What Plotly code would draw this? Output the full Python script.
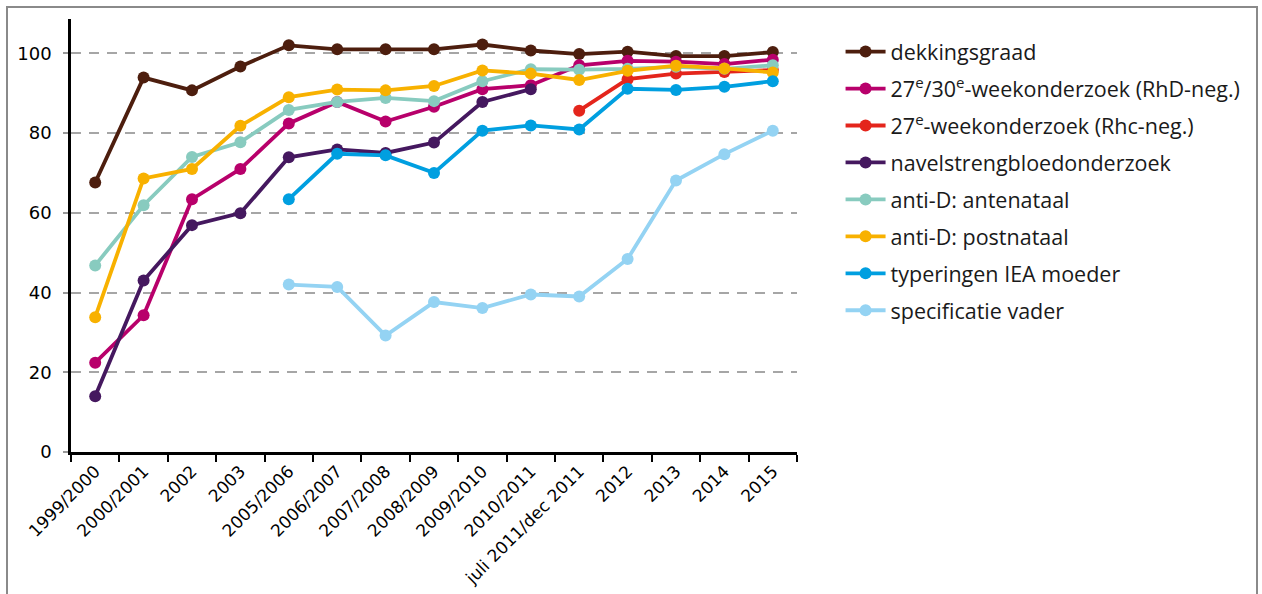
import plotly.graph_objects as go

# Periods on the horizontal axis
categories = [
    "1999/2000", "2000/2001", "2002", "2003", "2005/2006", "2006/2007",
    "2007/2008", "2008/2009", "2009/2010", "2010/2011", "juli 2011/dec 2011",
    "2012", "2013", "2014", "2015",
]

# Percentages per series (None = not measured in that period)
dekkingsgraad = [67.6, 93.9, 90.7, 96.7, 102.0, 101.0, 101.0, 101.0, 102.2, 100.7,
                 99.8, 100.4, 99.3, 99.3, 100.3]
week27_30_rhd = [22.4, 34.3, 63.4, 71.0, 82.4, 87.8, 82.9, 86.6, 91.0, 92.0,
                 97.0, 98.1, 97.9, 97.3, 98.4]
week27_rhc = [None, None, None, None, None, None, None, None, None, None,
              85.6, 93.5, 94.9, 95.3, 95.8]
navelstreng = [14.0, 43.0, 56.9, 59.9, 73.9, 75.9, 75.0, 77.6, 87.8, 91.0,
               None, None, None, None, None]
anti_d_antenataal = [46.8, 61.9, 74.0, 77.7, 85.8, 87.8, 88.8, 88.0, 93.0, 96.0,
                     95.9, 96.1, 96.6, 96.1, 97.0]
anti_d_postnataal = [33.8, 68.6, 71.0, 81.8, 89.0, 90.9, 90.7, 91.8, 95.7, 94.9,
                     93.3, 95.6, 96.9, 96.2, 95.2]
typeringen_iea = [None, None, None, None, 63.4, 74.8, 74.4, 70.0, 80.6, 81.9,
                  80.9, 91.1, 90.8, 91.6, 93.0]
specificatie_vader = [None, None, None, None, 42.0, 41.4, 29.2, 37.6, 36.1, 39.5,
                      39.0, 48.4, 68.1, 74.7, 80.6]

y_ticks = [0, 20, 40, 60, 80, 100]

series = [
    ("dekkingsgraad", dekkingsgraad, "#4d1e0e"),
    ("27<sup>e</sup>/30<sup>e</sup>-weekonderzoek (RhD-neg.)", week27_30_rhd, "#b8006b"),
    ("27<sup>e</sup>-weekonderzoek (Rhc-neg.)", week27_rhc, "#e4251c"),
    ("navelstrengbloedonderzoek", navelstreng, "#45185f"),
    ("anti-D: antenataal", anti_d_antenataal, "#88cbbf"),
    ("anti-D: postnataal", anti_d_postnataal, "#f8b100"),
    ("typeringen IEA moeder", typeringen_iea, "#009fe0"),
    ("specificatie vader", specificatie_vader, "#94d3f3"),
]

fig = go.Figure()
for i, (name, values, color) in enumerate(series):
    fig.add_trace(go.Scatter(
        x=categories, y=values, name=name, mode="lines+markers",
        line=dict(color=color, width=3.8),
        marker=dict(color=color, size=12),
        legendgroup=f"g{i}",
        connectgaps=False,
    ))

fig.update_layout(
    width=1262, height=594,
    margin=dict(l=71, r=465, t=19, b=142, autoexpand=False),
    plot_bgcolor="white", paper_bgcolor="white",
    showlegend=True,
    legend=dict(
        x=1.06, xanchor="left", y=0.972, yanchor="top",
        font=dict(family="Open Sans", size=21.5, color="#1a1a1a"),
        tracegroupgap=6, itemwidth=40, maxheight=1.0,
        bgcolor="rgba(0,0,0,0)",
    ),
    font=dict(family="DejaVu Sans", size=18, color="black"),
)

fig.update_xaxes(
    type="category", range=[-0.5, len(categories) - 0.5],
    showline=True, linecolor="black", linewidth=2.5,
    ticks="outside", tickson="boundaries", ticklen=7, tickwidth=2, tickcolor="black",
    tickangle=-45, tickfont=dict(family="DejaVu Sans", size=17, color="black"),
    showgrid=False, zeroline=False,
)
fig.update_yaxes(
    range=[0, 108.6], tickvals=y_ticks,
    showline=True, linecolor="black", linewidth=2.5,
    ticks="outside", ticklen=5, tickwidth=2, tickcolor="#999999",
    showgrid=True, gridcolor="#a6a6a6", gridwidth=2, griddash="10px,8px",
    zeroline=False, ticklabelstandoff=8,
    tickfont=dict(family="DejaVu Sans", size=18, color="black"),
)

# Outer frame around the whole figure
fig.add_shape(
    type="rect", xref="paper", yref="paper",
    x0=(7 - 71) / 726, x1=(1257 - 71) / 726,
    y0=(452 - 620) / 433, y1=(452 - 7) / 433,
    line=dict(color="#8a8a8a", width=2), fillcolor="rgba(0,0,0,0)",
    layer="below",
)

fig.write_html("out.html")
